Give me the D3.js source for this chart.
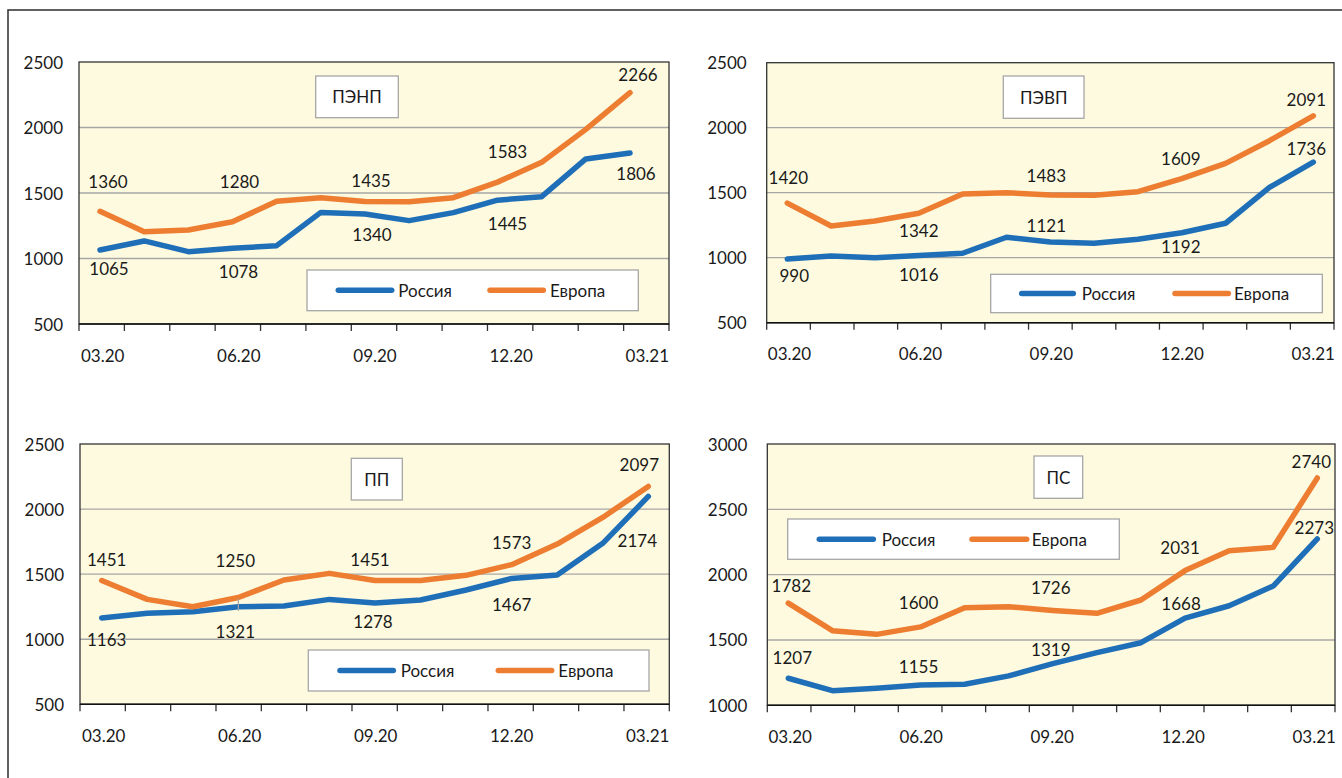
<!DOCTYPE html>
<html lang="ru">
<head>
<meta charset="UTF-8">
<title>ПЭНП, ПЭВП, ПП, ПС — Россия и Европа</title>
<script src="https://d3js.org/d3.v7.min.js"></script>
<style>
  body { margin: 0; background: #fff; }
  svg text { font-family: Lato, "Open Sans", sans-serif; font-size: 17px; fill: #1a1a1a; }
</style>
</head>
<body>
<svg width="1342" height="778"></svg>
<script>
// ---- data ----
const months = ["03.20","04.20","05.20","06.20","07.20","08.20","09.20","10.20","11.20","12.20","01.21","02.21","03.21"];
const tickLabels = ["03.20","06.20","09.20","12.20","03.21"];
const seriesNames = ["Россия","Европа"];

const penpRussia = [1065,1134,1052,1078,1098,1352,1340,1289,1350,1445,1472,1760,1806];
const penpEurope = [1360,1205,1218,1280,1437,1464,1435,1434,1464,1583,1734,1986,2266];
const pevpRussia = [990,1013,1000,1016,1034,1157,1121,1111,1142,1192,1265,1541,1736];
const pevpEurope = [1420,1244,1282,1342,1490,1500,1483,1480,1508,1609,1726,1900,2091];
const ppRussia   = [1163,1199,1211,1250,1255,1306,1278,1301,1378,1467,1493,1737,2097];
const ppEurope   = [1451,1306,1250,1321,1455,1506,1451,1451,1491,1573,1731,1936,2174];
const psRussia   = [1207,1112,1130,1155,1161,1225,1319,1403,1479,1668,1762,1913,2273];
const psEurope   = [1782,1571,1543,1600,1747,1755,1726,1704,1806,2031,2183,2209,2740];

const ticks2500 = [500,1000,1500,2000,2500];
const ticks3000 = [1000,1500,2000,2500,3000];

// ---- layout ----
const blue = "#1f6fb8", orange = "#ed7d31";
const panels = [
  { title: "ПЭНП", ru: penpRussia, eu: penpEurope, yTicks: ticks2500,
    plot: {x: 79, y: 62, w: 590, h: 262}, pts: [100, 630], yGap: 16,
    tbox: {x: 315.7, y: 76, w: 82.6, h: 41.7},
    legend: {x: 307, y: 270, w: 331.3, h: 40.7, l1: [338.3, 391.7], t1: 398.3, l2: [490, 543.3], t2: 550},
    labels: [
      {s: "eu", i: 0, dx: 8, dy: -30}, {s: "ru", i: 0, dx: 9, dy: 19},
      {s: "eu", i: 3, dx: 7, dy: -40}, {s: "ru", i: 3, dx: 6, dy: 23},
      {s: "eu", i: 6, dx: 6, dy: -21}, {s: "ru", i: 6, dx: 7, dy: 21},
      {s: "eu", i: 9, dx: 10, dy: -31}, {s: "ru", i: 9, dx: 10, dy: 23},
      {s: "eu", i: 12, dx: 8, dy: -18}, {s: "ru", i: 12, dx: 6, dy: 21}
    ] },
  { title: "ПЭВП", ru: pevpRussia, eu: pevpEurope, yTicks: ticks2500,
    plot: {x: 766.7, y: 62.7, w: 567.3, h: 260}, pts: [787.3, 1313.3], yGap: 20,
    tbox: {x: 1003.3, y: 76, w: 80.7, h: 42.3},
    legend: {x: 990.7, y: 274.3, w: 331.6, h: 38.4, l1: [1021.7, 1073.3], t1: 1081.7, l2: [1175, 1228.3], t2: 1234},
    labels: [
      {s: "eu", i: 0, dx: 1, dy: -26}, {s: "ru", i: 0, dx: 7, dy: 16},
      {s: "eu", i: 3, dx: 0, dy: 17}, {s: "ru", i: 3, dx: 0, dy: 19},
      {s: "eu", i: 6, dx: -4, dy: -19}, {s: "ru", i: 6, dx: -4, dy: -16},
      {s: "eu", i: 9, dx: -1, dy: -20}, {s: "ru", i: 9, dx: -1, dy: 14},
      {s: "eu", i: 12, dx: -7, dy: -16}, {s: "ru", i: 12, dx: -7, dy: -14}
    ] },
  { title: "ПП", ru: ppRussia, eu: ppEurope, yTicks: ticks2500,
    plot: {x: 80, y: 444, w: 589.3, h: 260.3}, pts: [101.7, 648.3], yGap: 16,
    tbox: {x: 351.3, y: 458.3, w: 51, h: 41.7},
    legend: {x: 308.3, y: 650, w: 340.7, h: 41, l1: [340, 393.3], t1: 400.7, l2: [498.3, 551.7], t2: 558.3},
    leader: 3,
    labels: [
      {s: "eu", i: 0, dx: 5, dy: -21}, {s: "ru", i: 0, dx: 5, dy: 21},
      {s: "ru", i: 3, dx: -3, dy: -46}, {s: "eu", i: 3, dx: -3, dy: 34},
      {s: "eu", i: 6, dx: -5, dy: -21}, {s: "ru", i: 6, dx: -2, dy: 18},
      {s: "eu", i: 9, dx: 0, dy: -22}, {s: "ru", i: 9, dx: 0, dy: 26},
      {s: "ru", i: 12, dx: -9, dy: -32}, {s: "eu", i: 12, dx: -11, dy: 54}
    ] },
  { title: "ПС", ru: psRussia, eu: psEurope, yTicks: ticks3000,
    plot: {x: 767.3, y: 444, w: 567.7, h: 261.3}, pts: [788.3, 1317.3], yGap: 20,
    tbox: {x: 1034, y: 456, w: 48.7, h: 42.3},
    legend: {x: 787.7, y: 519, w: 331.6, h: 40.3, l1: [819.3, 873.3], t1: 881.7, l2: [972, 1026.7], t2: 1031.7},
    labels: [
      {s: "eu", i: 0, dx: 3, dy: -18}, {s: "ru", i: 0, dx: 4, dy: -21},
      {s: "eu", i: 3, dx: -2, dy: -24}, {s: "ru", i: 3, dx: -2, dy: -19},
      {s: "eu", i: 6, dx: -2, dy: -23}, {s: "ru", i: 6, dx: -2, dy: -14},
      {s: "eu", i: 9, dx: -5, dy: -23}, {s: "ru", i: 9, dx: -4, dy: -15},
      {s: "eu", i: 12, dx: -6, dy: -16}, {s: "ru", i: 12, dx: -3, dy: -11}
    ] }
];

const svg = d3.select("svg");

// outer frame (only top and left edges visible)
svg.append("rect").attr("x", 8).attr("y", 10).attr("width", 1400).attr("height", 800)
  .attr("fill", "none").attr("stroke", "#3a3a3a").attr("stroke-width", 1.6);

panels.forEach(p => {
  const g = svg.append("g");
  const x0 = p.plot.x, x1 = p.plot.x + p.plot.w, y0 = p.plot.y, y1 = p.plot.y + p.plot.h;

  const y = d3.scaleLinear().domain(d3.extent(p.yTicks)).range([y1, y0]);
  const xBand = d3.scaleBand().domain(months).range([x0, x1]);
  const xPt = d3.scalePoint().domain(months).range(p.pts);

  g.append("rect").attr("x", x0).attr("y", y0).attr("width", p.plot.w).attr("height", p.plot.h)
    .attr("fill", "#fefadf");

  // gridlines
  g.selectAll(".grid").data(p.yTicks.slice(1, -1)).enter().append("line")
    .attr("x1", x0).attr("x2", x1).attr("y1", d => y(d)).attr("y2", d => y(d))
    .attr("stroke", "#a6a6a6").attr("stroke-width", 1.3);

  g.append("rect").attr("x", x0).attr("y", y0).attr("width", p.plot.w).attr("height", p.plot.h)
    .attr("fill", "none").attr("stroke", "#333").attr("stroke-width", 1.3);

  // y labels
  g.selectAll(".yl").data(p.yTicks).enter().append("text")
    .attr("x", x0 - p.yGap).attr("y", d => y(d)).attr("text-anchor", "end")
    .attr("dominant-baseline", "central").text(d => d);

  // x ticks at category boundaries
  const bounds = months.map(m => xBand(m)).concat([x1]);
  g.selectAll(".xt").data(bounds).enter().append("line")
    .attr("x1", d => d).attr("x2", d => d).attr("y1", y1).attr("y2", y1 + 7)
    .attr("stroke", "#333").attr("stroke-width", 1.3);
  g.append("line").attr("x1", x0).attr("x2", x1).attr("y1", y1).attr("y2", y1)
    .attr("stroke", "#111").attr("stroke-width", 1.5);

  g.selectAll(".xl").data(tickLabels).enter().append("text")
    .attr("x", d => xBand(d) + xBand.bandwidth() / 2 + 1).attr("y", y1 + 31)
    .attr("text-anchor", "middle").attr("dominant-baseline", "central").text(d => d);

  // title box
  g.append("rect").attr("x", p.tbox.x).attr("y", p.tbox.y).attr("width", p.tbox.w).attr("height", p.tbox.h)
    .attr("fill", "#fff").attr("stroke", "#a6a6a6").attr("stroke-width", 1.3);
  g.append("text").attr("x", p.tbox.x + p.tbox.w / 2).attr("y", p.tbox.y + p.tbox.h / 2)
    .attr("text-anchor", "middle").attr("dominant-baseline", "central").text(p.title);

  // lines
  const line = d3.line().x((d, i) => xPt(months[i])).y(d => y(d));
  [[p.ru, blue], [p.eu, orange]].forEach(([vals, col]) => {
    g.append("path").datum(vals).attr("d", line).attr("fill", "none")
      .attr("stroke", col).attr("stroke-width", 5.5)
      .attr("stroke-linejoin", "round").attr("stroke-linecap", "round");
  });

  if (p.leader !== undefined) {
    const lx = xPt(months[p.leader]);
    g.append("line").attr("x1", lx).attr("x2", lx)
      .attr("y1", y(p.eu[p.leader]) + 1).attr("y2", y(p.ru[p.leader]) + 4)
      .attr("stroke", "#a6a6a6").attr("stroke-width", 1.2);
  }

  // data labels
  p.labels.forEach(l => {
    const v = p[l.s][l.i];
    g.append("text").attr("x", xPt(months[l.i]) + l.dx).attr("y", y(v) + l.dy)
      .attr("text-anchor", "middle").attr("dominant-baseline", "central").text(v);
  });

  // legend
  const L = p.legend, ly = L.y + L.h / 2;
  g.append("rect").attr("x", L.x).attr("y", L.y).attr("width", L.w).attr("height", L.h)
    .attr("fill", "#fff").attr("stroke", "#a6a6a6").attr("stroke-width", 1.3);
  [[L.l1, L.t1, blue, seriesNames[0]], [L.l2, L.t2, orange, seriesNames[1]]].forEach(([ln, tx, col, name]) => {
    g.append("line").attr("x1", ln[0]).attr("x2", ln[1]).attr("y1", ly).attr("y2", ly)
      .attr("stroke", col).attr("stroke-width", 5.5).attr("stroke-linecap", "round");
    g.append("text").attr("x", tx).attr("y", ly).attr("dominant-baseline", "central").text(name);
  });
});
</script>
</body>
</html>
